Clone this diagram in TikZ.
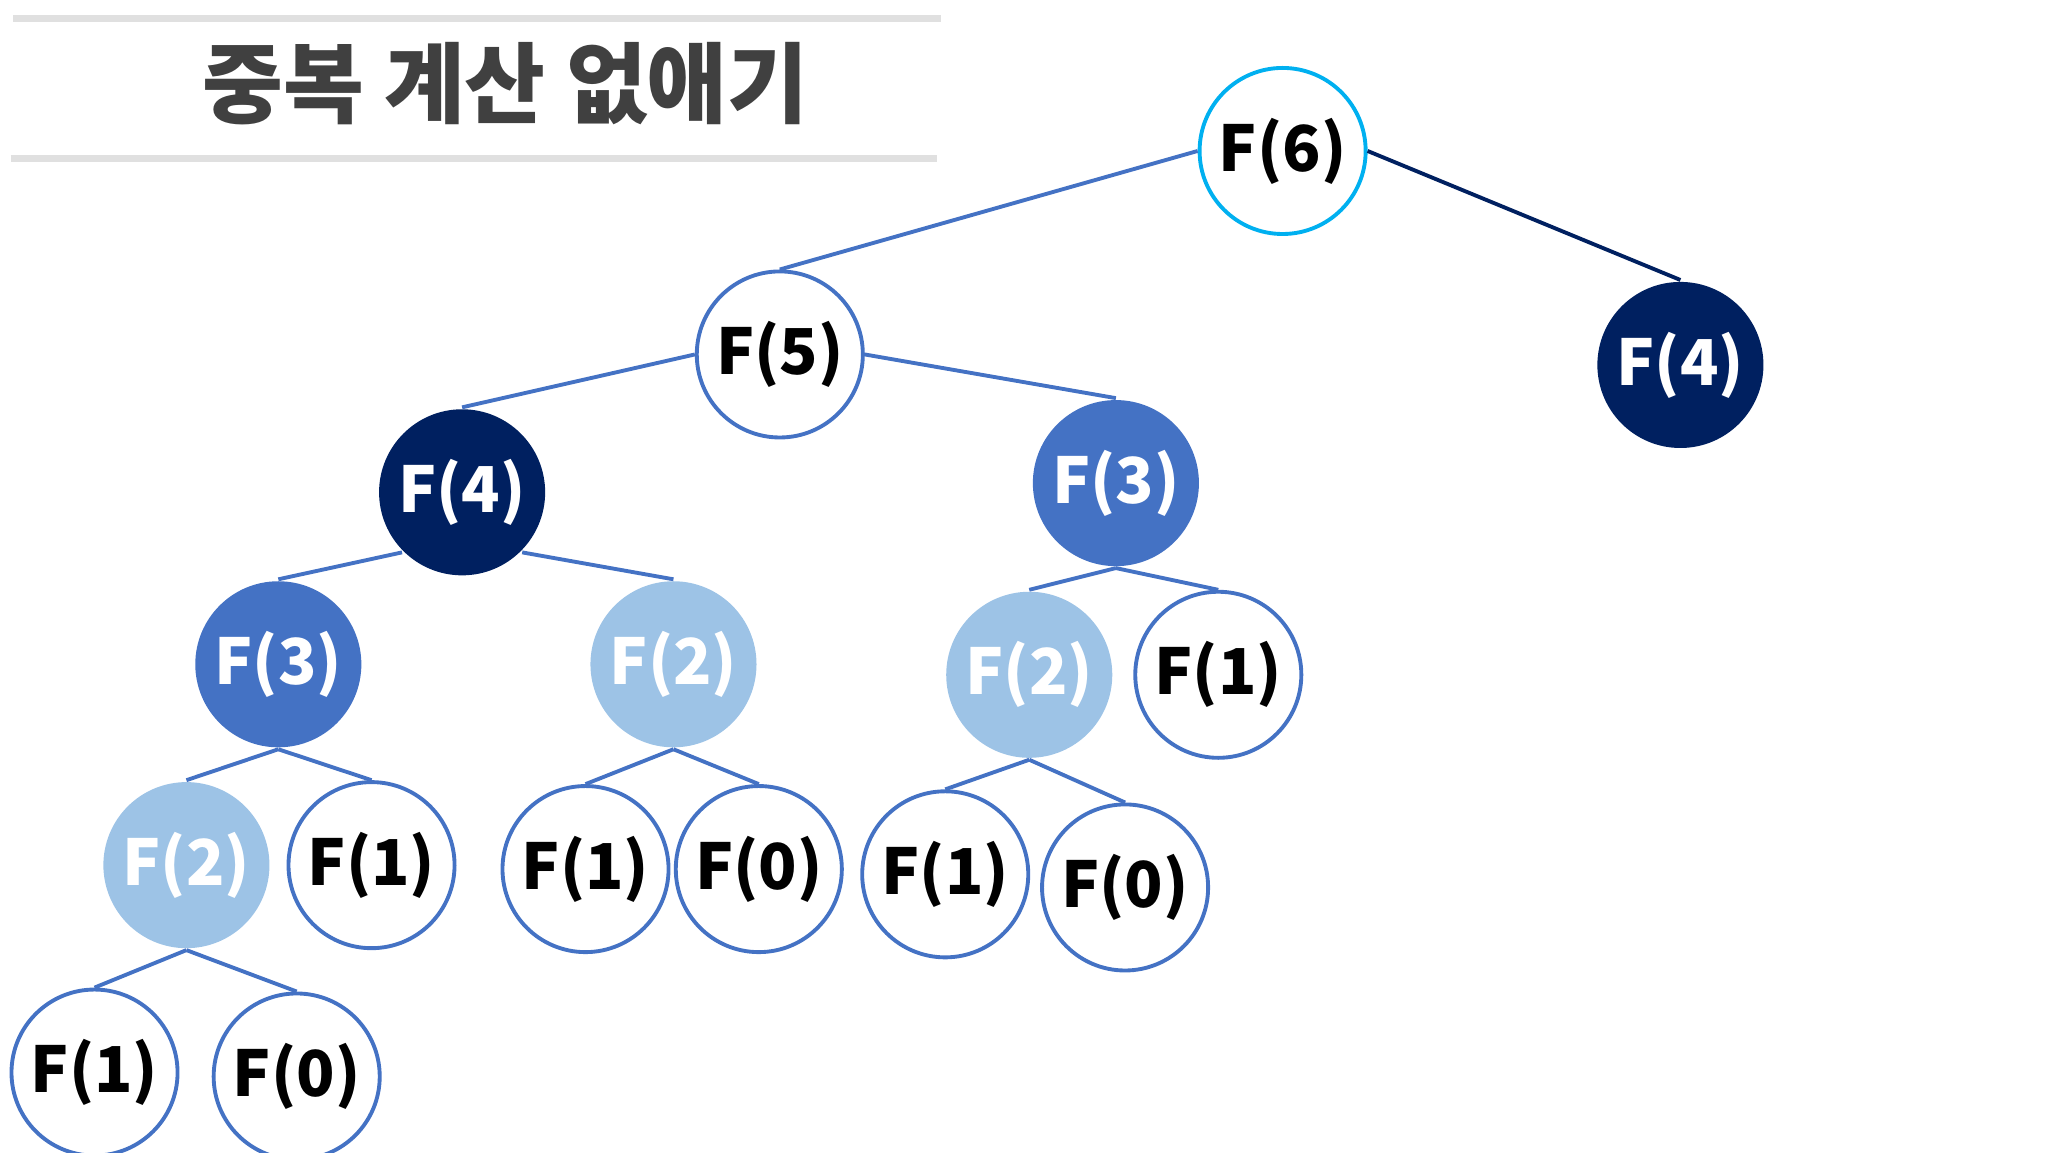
\documentclass[tikz,border=0pt]{standalone}
\usepackage{fontspec}
\setmainfont{Noto Sans CJK KR}
\usepackage{tikz}
\usetikzlibrary{positioning}
\definecolor{navy}{HTML}{002060}
\definecolor{midblue}{HTML}{4472C4}
\definecolor{lightblue}{HTML}{9DC3E6}
\definecolor{cyanline}{HTML}{00B0F0}
\definecolor{rulegray}{HTML}{E0E0E0}
\definecolor{titlegray}{HTML}{404040}

\tikzset{
  fib/.style = {circle, minimum size=1.66cm, inner sep=0pt, line width=1.1pt,
                font=\fontsize{18}{20}\selectfont\bfseries},
  open/.style = {fib, draw=midblue, fill=white},
  done/.style = {fib, fill=navy, text=white},
  mid/.style = {fib, fill=midblue, text=white},
  light/.style = {fib, fill=lightblue, text=white},
  link/.style = {midblue, line width=1.1pt},
}

\begin{document}
\begin{tikzpicture} [x=0.013128cm, y=-0.013128cm]
    \useasboundingbox (0,0) rectangle (1560,878);
    % title
    \draw [rulegray, line width=2pt] (10,14) -- (717,14);
    \draw [rulegray, line width=2pt] (8,121) -- (714,121);
    \node (title) [text=titlegray, font=\fontsize{25}{28}\selectfont\bfseries] at (385,64) {중복 계산 없애기};

    \node (f6) [open, draw=cyanline] at (977,115) {F(6)};
    \node (f4r) [done] at (1280,278) {F(4)};
    \node (f5) [open] at (594,270) {F(5)};
    \node (f4) [done] at (352,375) {F(4)};
    \node (f3r) [mid] at (850,368) {F(3)};
    \node (f3) [mid] at (212,506) {F(3)};
    \node (f2m) [light] at (513,506) {F(2)};
    \node (f2r) [light] at (784,514) {F(2)};
    \node (f1r) [open] at (928,514) {F(1)};
    \node (f2) [light] at (142,659) {F(2)};
    \node (f1a) [open] at (283,659) {F(1)};
    \node (f1b) [open] at (446,662) {F(1)};
    \node (f0b) [open] at (578,662) {F(0)};
    \node (f1c) [open] at (720,666) {F(1)};
    \node (f0c) [open] at (857,676) {F(0)};
    \node (f1d) [open] at (72,817) {F(1)};
    \node (f0d) [open] at (226,820) {F(0)};

    \draw [link] (f6.west) -- (f5.north);
    \draw [navy, line width=1.1pt] (f6.east) -- (f4r.north);
    \draw [link] (f5.west) -- (f4.north);
    \draw [link] (f5.east) -- (f3r.north);
    \draw [link] (f4.south west) -- (f3.north);
    \draw [link] (f4.south east) -- (f2m.north);
    \draw [link] (f3r.south) -- (f2r.north);
    \draw [link] (f3r.south) -- (f1r.north);
    \draw [link] (f3.south) -- (f2.north);
    \draw [link] (f3.south) -- (f1a.north);
    \draw [link] (f2m.south) -- (f1b.north);
    \draw [link] (f2m.south) -- (f0b.north);
    \draw [link] (f2r.south) -- (f1c.north);
    \draw [link] (f2r.south) -- (f0c.north);
    \draw [link] (f2.south) -- (f1d.north);
    \draw [link] (f2.south) -- (f0d.north);
\end{tikzpicture}
\end{document}
